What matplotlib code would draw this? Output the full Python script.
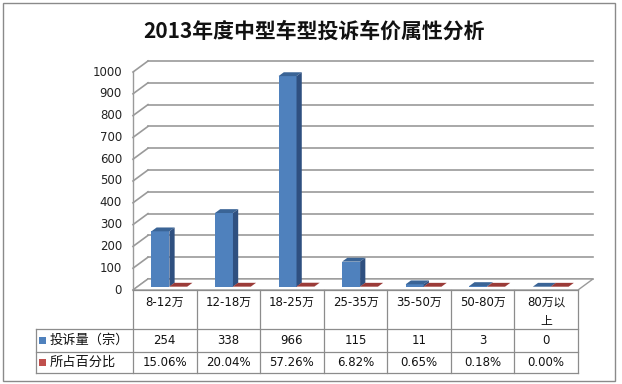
import matplotlib.pyplot as plt
from matplotlib.patches import Polygon, Rectangle

plt.rcParams['font.family'] = ['DejaVu Sans', 'Noto Sans CJK SC']

# data
categories = ["8-12万", "12-18万", "18-25万", "25-35万", "35-50万", "50-80万", "80万以上"]
header_labels = ["8-12万", "12-18万", "18-25万", "25-35万", "35-50万", "50-80万", "80万以\n上"]
counts = [254, 338, 966, 115, 11, 3, 0]
pcts = [15.06, 20.04, 57.26, 6.82, 0.65, 0.18, 0.00]
series_names = ["投诉量（宗）", "所占百分比"]
title = "2013年度中型车型投诉车价属性分析"

W, H = 622, 384
fig = plt.figure(figsize=(W / 100, H / 100), dpi=100)

# front plane of the 3d plot, in pixels
left, right, floor_y, top_y = 133, 578, 290, 72
n = len(categories)
ax = fig.add_axes([left / W, 1 - floor_y / H, (right - left) / W, (floor_y - top_y) / H])
ax.set_xlim(-0.5, n - 0.5)
ax.set_ylim(0, 1000)
ax.axis("off")

cat_px = (right - left) / n
unit_px = (floor_y - top_y) / 1000
DX = 15 / cat_px      # wall depth in category units
DY = 11 / unit_px     # wall depth in value units
grid_c = "#9a9a9a"

# gridlines on back wall + left wall
for v in range(0, 1001, 100):
    ax.plot([-0.5 + DX, n - 0.5 + DX], [v + DY, v + DY], color=grid_c, lw=1.2, clip_on=False, zorder=1)
    ax.plot([-0.5, -0.5 + DX], [v, v + DY], color=grid_c, lw=1.2, clip_on=False, zorder=1)
    ax.annotate(str(v), xy=(-0.5, v), xytext=(-8, 0), textcoords="offset points",
                ha="right", va="center", fontsize=8.5, color="#222222")
ax.plot([-0.5, -0.5], [0, 1000], color=grid_c, lw=1.0, clip_on=False, zorder=1)

# floor
floor = Polygon([(-0.5, 0), (n - 0.5, 0), (n - 0.5 + DX, DY), (-0.5 + DX, DY)],
                closed=True, facecolor="white", edgecolor=grid_c, lw=1.0, clip_on=False, zorder=2)
ax.add_patch(floor)

# 3d columns
w = 0.283
f, d = 0.3, 0.35
colors = [("#4F81BD", "#3A6496", "#2F5080"), ("#C0504D", "#9B3B38", "#8C3230")]
offsets = [-0.14, 0.14]
pct_vals = [p / 100 for p in pcts]
for i in range(n):
    for s, vals in enumerate([counts, pct_vals]):
        v = vals[i]
        front, top, side = colors[s]
        x0 = i + offsets[s] - w / 2 + f * DX
        y0 = f * DY
        ax.bar(x0, v, width=w, bottom=y0, align="edge", color=front, zorder=3, clip_on=False)
        ax.add_patch(Polygon([(x0, y0 + v), (x0 + w, y0 + v), (x0 + w + d * DX, y0 + v + d * DY),
                              (x0 + d * DX, y0 + v + d * DY)], closed=True, facecolor=top,
                             edgecolor="none", zorder=3, clip_on=False))
        ax.add_patch(Polygon([(x0 + w, y0), (x0 + w + d * DX, y0 + d * DY),
                              (x0 + w + d * DX, y0 + d * DY + v), (x0 + w, y0 + v)], closed=True,
                             facecolor=side, edgecolor="none", zorder=3, clip_on=False))

# overlay in pixel coordinates for title, table and border
ov = fig.add_axes([0, 0, 1, 1], facecolor="none")
ov.set_xlim(0, W)
ov.set_ylim(H, 0)
ov.axis("off")

ov.add_patch(Rectangle((3, 3), 612, 378, fill=False, edgecolor="#8a8a8a", lw=1.0))
ov.text(314, 31, title, ha="center", va="center", fontsize=15, fontweight="bold",
        family=["Noto Sans CJK SC"], color="#111111")

# data table
tc = "#8c8c8c"
legend_x = 36
rows = [290, 329, 352, 373]
xs = [left + j * cat_px for j in range(n + 1)]
for j, x in enumerate(xs):
    ov.plot([x, x], [rows[0], rows[-1]], color=tc, lw=0.9)
ov.plot([legend_x, legend_x], [rows[1], rows[-1]], color=tc, lw=0.9)
ov.plot([left, right], [rows[0], rows[0]], color=tc, lw=0.9)
for y in rows[1:]:
    ov.plot([legend_x, right], [y, y], color=tc, lw=0.9)

for i, label in enumerate(header_labels):
    cx = (xs[i] + xs[i + 1]) / 2
    ov.text(cx, 296, label, ha="center", va="top", fontsize=8.5, linespacing=1.6, color="#111111")
    ov.text(cx, 340.5, str(counts[i]), ha="center", va="center", fontsize=8.5, color="#111111")
    ov.text(cx, 362.5, f"{pcts[i]:.2f}%", ha="center", va="center", fontsize=8.5, color="#111111")

for r, name in enumerate(series_names):
    cy = (rows[r + 1] + rows[r + 2]) / 2
    ov.add_patch(Rectangle((39, cy - 3.5), 7, 7, facecolor=colors[r][0], edgecolor="none"))
    ov.text(50, cy, name, ha="left", va="center", fontsize=9.5, color="#111111",
            family=["Noto Sans CJK SC"])

fig.savefig("out.png", dpi=100)
